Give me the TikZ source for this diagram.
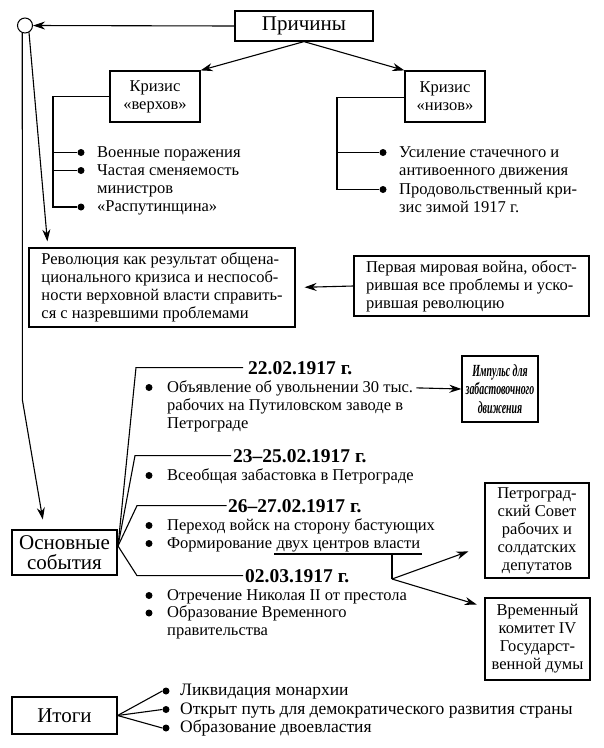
\documentclass[tikz,border=0pt]{standalone}
\usepackage{fontspec}
\setmainfont{Liberation Serif}
\newfontfamily\impfont[FakeStretch=0.58]{Liberation Serif}
\usetikzlibrary{arrows.meta,calc,positioning}

\begin{document}
\begin{tikzpicture}[x=1pt, y=-1pt,
    box/.style={draw, line width=1.2pt, inner sep=0pt, align=center, font=\fontsize{16.5}{18}\selectfont},
    bigbox/.style={box, font=\fontsize{21}{20}\selectfont},
    txt/.style={anchor=base west, inner sep=0pt, align=left, font=\fontsize{16.5}{18}\selectfont},
    datum/.style={anchor=base west, inner sep=0pt, font=\bfseries\fontsize{19.5}{18}\selectfont},
    dot/.style={circle, fill, inner sep=0pt, minimum size=7pt},
    ln/.style={line width=1.1pt},
    arr/.style={ln, -{Stealth[length=12pt, width=8pt]}}]

    \useasboundingbox (0,0) rectangle (604,748);

    % 原因
    \node[circle, draw, line width=1pt, minimum size=15pt, inner sep=0pt] (ring) at (25, 25.5) {};
    \node[bigbox, minimum width=138pt, minimum height=30pt] (prich) at (304, 26) {Причины};
    \node[box, minimum width=90pt, minimum height=51pt] (verh) at (155, 96.5) {Кризис\\«верхов»};
    \node[box, minimum width=80pt, minimum height=51pt] (niz) at (445, 96.5) {Кризис\\«низов»};

    \draw[arr] (prich.west) -- (ring.east);
    \draw[arr] (prich.south) -- (verh.north east);
    \draw[arr] (prich.south) -- (niz.north west);

    % 「верхов」の項目（複数行のノードは最終行のベースラインに置く）
    \node[dot] (vb1) at (81, 152.5) {};
    \node[dot] (vb2) at (81, 170.5) {};
    \node[dot] (vb3) at (81, 207) {};
    \node[txt] (vt1) at (97, 157) {Военные поражения};
    \node[txt] (vt2) at (97, 193) {Частая сменяемость\\министров};
    \node[txt] (vt3) at (97, 211.5) {«Распутинщина»};
    \coordinate (vtrunk) at (53, 96.5);
    \draw[ln] (verh.west) -- (vtrunk) |- (vb3.west);
    \draw[ln] (vtrunk |- vb1) -- (vb1.west);
    \draw[ln] (vtrunk |- vb2) -- (vb2.west);

    % 「низов」の項目
    \node[dot] (nb1) at (383, 152.5) {};
    \node[dot] (nb2) at (383, 189.5) {};
    \node[txt] (nt1) at (399, 175) {Усиление стачечного и\\антивоенного движения};
    \node[txt] (nt2) at (399, 212) {Продовольственный кри-\\зис зимой 1917 г.};
    \coordinate (ntrunk) at (337, 97.5);
    \draw[ln] (niz.west |- ntrunk) -- (ntrunk) |- (nb2.west);
    \draw[ln] (ntrunk |- nb1) -- (nb1.west);

    % 革命と戦争
    \node[box, align=left, minimum width=266pt, minimum height=79pt] (rev) at (162, 287.5) {Революция как результат общена-\\ционального кризиса и неспособ-\\ности верховной власти справить-\\ся с назревшими проблемами};
    \node[box, align=left, minimum width=235pt, minimum height=60pt] (war) at (471.5, 286) {Первая мировая война, обост-\\рившая все проблемы и уско-\\рившая революцию};
    \draw[arr, shorten >=9pt] (war.west) -- (rev.east);

    % 主な出来事
    \node[bigbox, minimum width=105pt, minimum height=45pt] (osn) at (64.5, 552.5) {Основные\\события};
    \coordinate (bend) at (22.4, 400);
    \draw[arr, shorten >=10pt] (ring.250) -- (bend) -- ([xshift=-20pt]osn.north);
    \draw[arr, shorten >=6pt] (ring.300) -- ([xshift=19.5pt]rev.north west);

    \node[datum] (d1) at (248, 374) {22.02.1917 г.};
    \node[datum] (d2) at (233, 462) {23–25.02.1917 г.};
    \node[datum] (d3) at (228, 512) {26–27.02.1917 г.};
    \node[datum] (d4) at (245, 582) {02.03.1917 г.};
    \coordinate (fan) at (118, 546);
    \draw[ln] (fan) -- ([xshift=-112pt]d1.west) -- ([xshift=-5pt]d1.west);
    \draw[ln] (fan) -- ([xshift=-98pt]d2.west) -- ([xshift=-2pt]d2.west);
    \draw[ln] (fan) -- ([xshift=-91pt]d3.west) -- ([xshift=-1.5pt]d3.west);
    \draw[ln] (fan) -- ([xshift=-108pt]d4.west) -- ([xshift=-2pt]d4.west);

    \node[dot] (e1) at (149, 387.5) {};
    \node[txt] (o1) at (167, 392) {Объявление об увольнении 30 тыс.};
    \node[txt] (o1b) at (167, 428) {рабочих на Путиловском заводе в\\Петрограде};
    \node[box, minimum width=76pt, minimum height=66pt, font=\impfont\bfseries\itshape\fontsize{17}{18.5}\selectfont] (imp) at (500, 389) {Импульс для\\забастовочного\\движения};
    \draw[arr] ([xshift=3pt]o1.east) -- (imp.west);

    \node[dot] (e2) at (149, 475.5) {};
    \node[txt] (o2) at (167, 480) {Всеобщая забастовка в Петрограде};

    \node[dot] (e3) at (149, 525.5) {};
    \node[txt] (o3) at (167, 530) {Переход войск на сторону бастующих};
    \node[dot] (e4) at (149, 543.5) {};
    \node[txt] (o4) at (167, 548) {Формирование};
    \node[txt, base right=4pt of o4] (o4b) {двух центров власти};
    \coordinate (ulA) at ([xshift=-2pt, yshift=-6pt]o4b.base west);
    \coordinate (ulB) at ([xshift=2pt, yshift=-6pt]o4b.base east);
    \draw[ln] (ulA) -- (ulB);

    \node[box, minimum width=104pt, minimum height=95pt] (sovet) at (537, 530.5) {Петроград-\\ский Совет\\рабочих и\\солдатских\\депутатов};
    \node[box, minimum width=105pt, minimum height=82pt] (vrem) at (537.5, 639) {Временный\\комитет IV\\Государст-\\венной думы};
    \coordinate (fork) at (392, 579);
    \draw[ln] (fork |- ulA) -- (fork);
    \draw[arr, shorten >=17pt] (fork) -- ([yshift=33pt]sovet.south west);
    \draw[arr, shorten >=8pt] (fork) -- ([yshift=-9.4pt]vrem.north west);

    \node[dot] (e5) at (149, 595.5) {};
    \node[txt] (o5) at (167, 600) {Отречение Николая II от престола};
    \node[dot] (e6) at (149, 613) {};
    \node[txt] (o6) at (167, 635.5) {Образование Временного\\правительства};

    % 結果
    \node[bigbox, minimum width=105pt, minimum height=37pt] (itog) at (64.5, 715.5) {Итоги};
    \node[dot] (i1) at (166, 691) {};
    \node[dot] (i2) at (166, 709.5) {};
    \node[dot] (i3) at (166, 728) {};
    \node[txt, font=\fontsize{17.5}{18}\selectfont] (it1) at (180, 695.5) {Ликвидация монархии};
    \node[txt, font=\fontsize{17.5}{18}\selectfont] (it2) at (180, 714) {Открыт путь для демократического развития страны};
    \node[txt, font=\fontsize{17.5}{18}\selectfont] (it3) at (180, 732.5) {Образование двоевластия};
    \draw[ln] (itog.east) -- (i1.west);
    \draw[ln] (itog.east) -- (i2.west);
    \draw[ln] (itog.east) -- (i3.west);

\end{tikzpicture}
\end{document}
